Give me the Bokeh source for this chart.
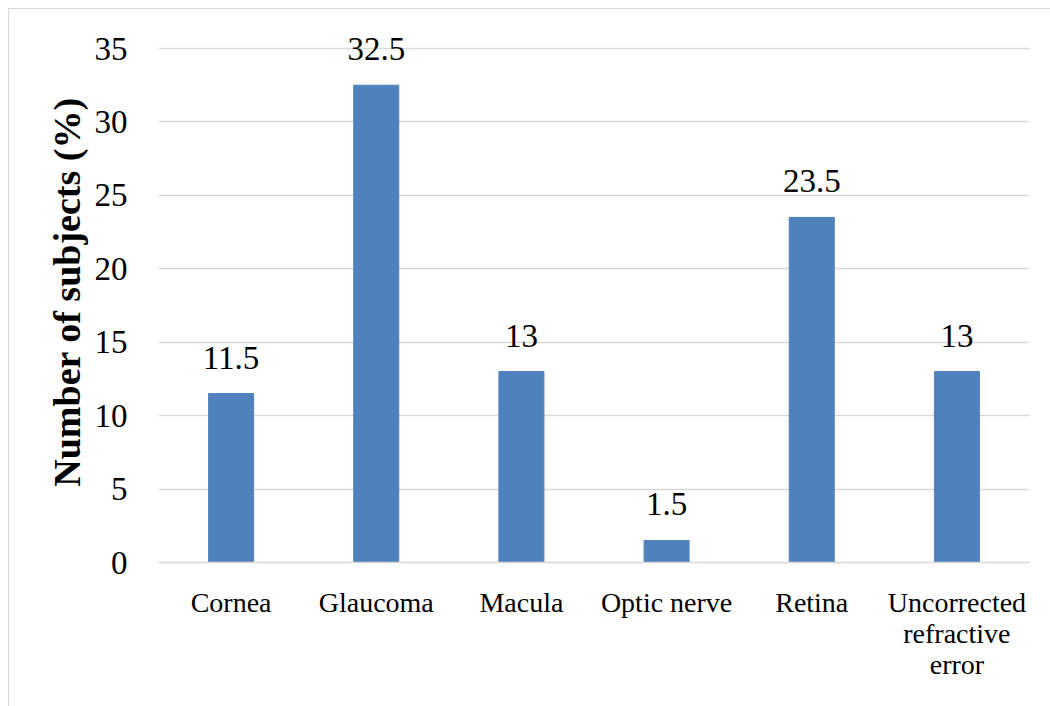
from bokeh.plotting import figure
from bokeh.models import ColumnDataSource, FixedTicker
from bokeh.core.properties import value
from bokeh.embed import file_html
from bokeh.resources import INLINE

# Causes of visual impairment, share of subjects (%)
categories = ["Cornea", "Glaucoma", "Macula", "Optic nerve", "Retina",
              "Uncorrected\nrefractive\nerror"]
percent = [11.5, 32.5, 13, 1.5, 23.5, 13]
y_ticks = [0, 5, 10, 15, 20, 25, 30, 35]

labels = [("%g" % v) for v in percent]
src = ColumnDataSource(dict(cat=categories, val=percent, lab=labels))

FONT = "'Liberation Serif', 'Times New Roman', serif"
BAR = "#4f81bd"
GRID = "#d9d9d9"

# a little headroom above the top gridline (35) so the tallest value label fits
p = figure(x_range=categories, y_range=(0, 36.84),
           width=1042, height=698, margin=(8, 0, 0, 8),
           output_backend="svg", toolbar_location=None,
           min_border_left=149, min_border_right=22,
           min_border_top=12, min_border_bottom=145,
           styles={"border-left": "1px solid #d9d9d9",
                   "border-top": "1px solid #d9d9d9"})
p.outline_line_color = None
p.background_fill_color = "white"
p.border_fill_color = "white"

p.vbar(x="cat", top="val", width=0.31, source=src,
       fill_color=BAR, line_color=BAR)

p.text(x="cat", y="val", text="lab", source=src,
       text_align="center", text_baseline="alphabetic", y_offset=-36,
       text_font=value(FONT), text_font_size="33px", text_color="black")

# grid
p.xgrid.grid_line_color = None
p.ygrid.grid_line_color = GRID
p.ygrid.grid_line_width = 1.5
p.yaxis.ticker = FixedTicker(ticks=y_ticks)

# y axis
p.yaxis.axis_line_color = None
p.yaxis.major_tick_line_color = None
p.yaxis.minor_tick_line_color = None
p.yaxis.major_label_standoff = 25
p.yaxis.major_label_text_font = FONT
p.yaxis.major_label_text_font_size = "33px"
p.yaxis.major_label_text_color = "black"
p.yaxis.axis_label = "Number of subjects (%)"
p.yaxis.axis_label_text_font = FONT
p.yaxis.axis_label_text_font_size = "38px"
p.yaxis.axis_label_text_font_style = "bold"
p.yaxis.axis_label_text_color = "black"
p.yaxis.axis_label_standoff = 4

# x axis
p.xaxis.axis_line_color = GRID
p.xaxis.axis_line_width = 1.5
p.xaxis.major_tick_line_color = None
p.xaxis.minor_tick_line_color = None
p.xaxis.major_label_standoff = 18
p.xaxis.major_label_text_font = FONT
p.xaxis.major_label_text_font_size = "28px"
p.xaxis.major_label_text_color = "black"
p.xaxis.major_label_text_line_height = 1.0

open("out.html", "w").write(file_html(p, INLINE))
